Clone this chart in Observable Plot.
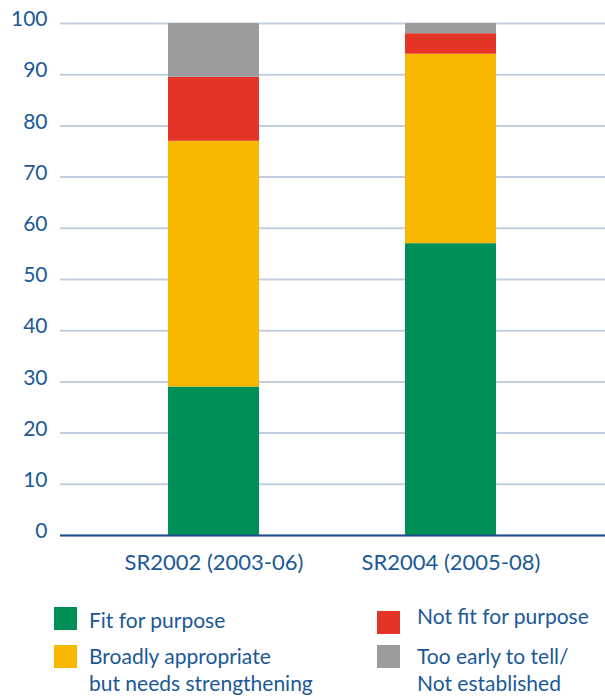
<!DOCTYPE html>
<html>
<head>
<meta charset="utf-8">
<script src="https://cdn.jsdelivr.net/npm/d3@7"></script>
<script src="https://cdn.jsdelivr.net/npm/@observablehq/plot@0.6"></script>
<style>
  body { margin: 0; background: #fff; font-family: Lato, "Noto Sans", sans-serif; color: #1b5996; }
  #chart { position: relative; width: 605px; height: 696px; }
  .legend { position: absolute; left: 0; top: 0; width: 605px; }
  .item { position: absolute; font-size: 21px; line-height: 27px; color: #1b5996; white-space: nowrap; }
  .sw { position: absolute; width: 23px; height: 23px; }
</style>
</head>
<body>
<div id="chart"></div>
<script>
const categories = ["SR2002 (2003-06)", "SR2004 (2005-08)"];
const seriesNames = ["Fit for purpose", "Broadly appropriate but needs strengthening", "Not fit for purpose", "Too early to tell/ Not established"];
const fitForPurpose = [29, 57];
const broadlyAppropriate = [48, 37];
const notFitForPurpose = [12.5, 4];
const tooEarly = [10.5, 2];
const seriesColors = ["#009057", "#f9b800", "#e43425", "#9b9c9e"];
const yTicks = [0, 10, 20, 30, 40, 50, 60, 70, 80, 90, 100];

const seriesValues = [fitForPurpose, broadlyAppropriate, notFitForPurpose, tooEarly];
const data = [];
seriesNames.forEach((s, i) => categories.forEach((c, j) => data.push({cat: c, series: s, value: seriesValues[i][j]})));

const chart = Plot.plot({
  width: 605, height: 580,
  marginLeft: 60, marginRight: 0, marginTop: 23, marginBottom: 45,
  style: {fontFamily: "Lato, 'Noto Sans', sans-serif", fontSize: "21px", color: "#1b5996", background: "transparent"},
  x: {domain: categories, paddingInner: 0.618, paddingOuter: 0.454, align: 0.495, label: null},
  y: {domain: [0, 100], label: null},
  color: {domain: seriesNames, range: seriesColors},
  marks: [
    Plot.gridY(yTicks, {stroke: "#c3cde0", strokeOpacity: 1, strokeWidth: 2}),
    Plot.barY(data, {x: "cat", y: "value", fill: "series"}),
    Plot.ruleY([0], {stroke: "#1f4e8a", strokeWidth: 2}),
    Plot.axisY(yTicks, {tickSize: 0, tickPadding: 13, dy: -4, label: null, fontSize: 21}),
    Plot.axisX({tickSize: 0, tickPadding: 19, label: null, fontSize: 22})
  ]
});
const root = document.getElementById("chart");
root.appendChild(chart);

// legend
const legendPos = [
  {x: 54, y: 607, tx: 89, ty: 606, lines: ["Fit for purpose"]},
  {x: 54, y: 645, tx: 89, ty: 642, lines: ["Broadly appropriate", "but needs strengthening"]},
  {x: 377, y: 611, tx: 417, ty: 602, lines: ["Not fit for purpose"]},
  {x: 377, y: 645, tx: 417, ty: 642, lines: ["Too early to tell/", "Not established"]}
];
const leg = document.createElement("div");
leg.className = "legend";
legendPos.forEach((p, i) => {
  const sw = document.createElement("div");
  sw.className = "sw";
  sw.style.left = p.x + "px"; sw.style.top = p.y + "px";
  sw.style.background = seriesColors[i];
  leg.appendChild(sw);
  const t = document.createElement("div");
  t.className = "item";
  t.style.left = p.tx + "px"; t.style.top = p.ty + "px";
  t.innerHTML = p.lines.join("<br>");
  leg.appendChild(t);
});
root.appendChild(leg);
</script>
</body>
</html>
